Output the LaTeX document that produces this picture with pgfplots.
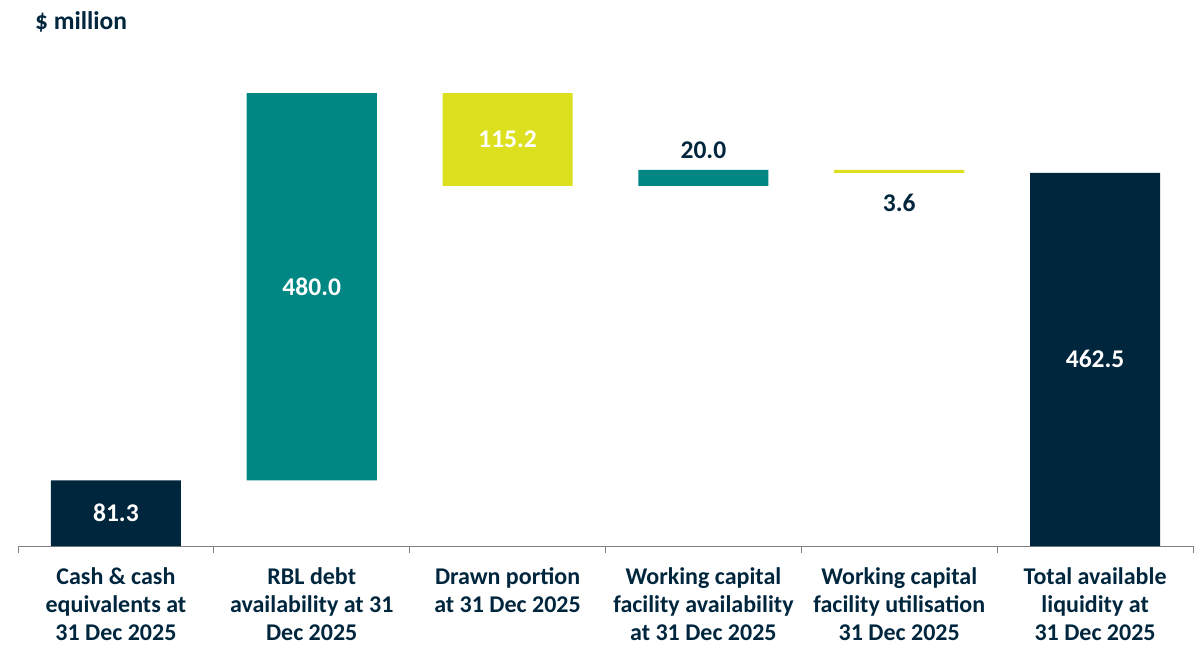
\documentclass[border=0pt]{standalone}
\usepackage{pgfplots}
\pgfplotsset{compat=1.18}
\usepackage{fontspec}
\setmainfont{Carlito}
\definecolor{navy}{HTML}{00263E}
\definecolor{myteal}{HTML}{008784}
\definecolor{lime}{HTML}{DDE01E}
\definecolor{axgray}{HTML}{808080}
\begin{document}
\begin{tikzpicture}[font=\fontsize{24}{28}\selectfont\bfseries]
\begin{axis}[
  name=ax,
  scale only axis, width=1175pt, height=484.2pt,
  xmin=-0.5, xmax=5.5, ymin=0, ymax=600,
  ybar stacked, bar width=0.664,
  axis x line*=bottom, axis y line=none, ytick=\empty,
  x axis line style={axgray, line width=1pt},
  xtick={0,...,5},
  xticklabels={{Cash \& cash\\equivalents at\\31 Dec 2025},{RBL debt\\availability at 31\\Dec 2025},{Drawn portion\\at 31 Dec 2025},{Working capital\\facility availability\\at 31 Dec 2025},{Working capital\\facility utilisation\\31 Dec 2025},{Total available\\liquidity at\\31 Dec 2025}},
  minor xtick={-0.5,0.5,...,5.5},
  major tick length=0pt, minor tick length=7pt, tick align=outside,
  every minor tick/.style={axgray, line width=1pt},
  xticklabel style={align=center, text=navy, font=\fontsize{24}{28}\selectfont\bfseries, anchor=north, yshift=-18pt},
  clip=false,
]
\addplot[fill=none, draw=none] coordinates {(0,0)(1,81.3)(2,446.1)(3,446.1)(4,462.5)(5,0)};
\addplot[fill=navy, draw=none] coordinates {(0,81.3)(1,0)(2,0)(3,0)(4,0)(5,462.5)};
\addplot[fill=myteal, draw=none] coordinates {(0,0)(1,480)(2,0)(3,20)(4,0)(5,0)};
\addplot[fill=lime, draw=none] coordinates {(0,0)(1,0)(2,115.2)(3,0)(4,3.6)(5,0)};
\coordinate (l0) at (axis cs:0,40.65);
\coordinate (l1) at (axis cs:1,321.3);
\coordinate (l2) at (axis cs:2,503.7);
\coordinate (l3) at (axis cs:3,490.7);
\coordinate (l4) at (axis cs:4,425);
\coordinate (l5) at (axis cs:5,231.25);
\coordinate (lt) at (axis description cs:0.0145,1.082);
\end{axis}
\begin{scope}[font=\fontsize{25.5}{28}\selectfont\bfseries]
\node[white] at (l0) {81.3};
\node[white] at (l1) {480.0};
\node[white] at (l2) {115.2};
\node[navy] at (l3) {20.0};
\node[navy] at (l4) {3.6};
\node[white] at (l5) {462.5};
\node[navy, anchor=west, inner sep=0pt] at (lt) {\$ million};
\end{scope}
\pgfresetboundingbox
\path[use as bounding box] ([xshift=-18pt,yshift=-99pt]ax.south west) rectangle ([xshift=6pt,yshift=61.8pt]ax.north east);
\end{tikzpicture}
\end{document}
